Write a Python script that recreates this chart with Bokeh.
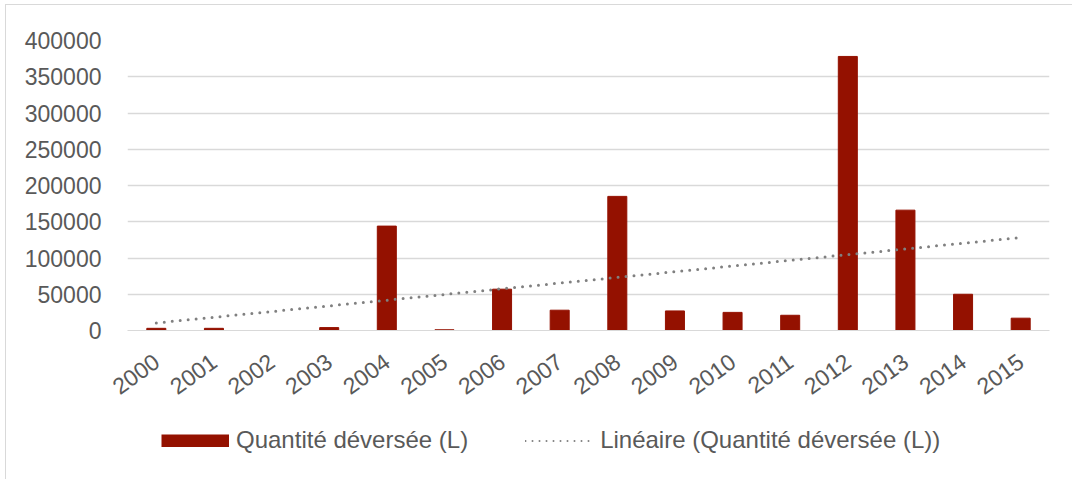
import numpy as np
from bokeh.plotting import figure
from bokeh.layouts import column
from bokeh.models import FactorRange, Range1d, SingleIntervalTicker, BasicTickFormatter, Legend, LegendItem
from bokeh.embed import file_html
from bokeh.resources import INLINE

years = ["2000", "2001", "2002", "2003", "2004", "2005", "2006", "2007",
         "2008", "2009", "2010", "2011", "2012", "2013", "2014", "2015"]
quantite = [3000, 3000, 0, 4000, 144000, 1000, 57000, 28000,
            185000, 27000, 25000, 21000, 378000, 166000, 50000, 17000]

series_name = "Quantité déversée (L)"
trend_name = "Linéaire (Quantité déversée (L))"

# linear trendline (least squares on year index)
idx = np.arange(len(years))
slope, intercept = np.polyfit(idx, np.array(quantite, dtype=float), 1)
trend = list(intercept + slope * idx)

FONT = "Liberation Sans"
TXT = "#595959"
BAR = "#941100"
TREND = "#808080"

W = 1066
p = figure(x_range=FactorRange(*years, range_padding=0),
           y_range=Range1d(0, 400000),
           width=W, height=410,
           output_backend="svg", toolbar_location=None,
           min_border_left=121, min_border_right=23,
           min_border_top=35, min_border_bottom=85)
p.outline_line_color = None

p.vbar(x=years, top=quantite, width=0.33, fill_color=BAR, line_color=BAR)
p.line(x=years, y=trend, line_color=TREND, line_width=3,
       line_dash="0 8", line_cap="round")

p.xgrid.grid_line_color = None
p.ygrid.grid_line_color = "#d9d9d9"
p.ygrid.grid_line_width = 1.5

p.yaxis.ticker = SingleIntervalTicker(interval=50000)
p.yaxis.formatter = BasicTickFormatter(use_scientific=False)
p.yaxis.axis_line_color = None
p.yaxis.major_tick_line_color = None
p.yaxis.minor_tick_line_color = None
p.yaxis.major_tick_out = 0
p.yaxis.major_label_standoff = 22

p.xaxis.axis_line_color = "#d9d9d9"
p.xaxis.major_tick_line_color = None
p.xaxis.minor_tick_line_color = None
p.xaxis.major_tick_out = 0
p.xaxis.major_label_orientation = 0.63
p.xaxis.major_label_standoff = 28

for ax in (p.xaxis, p.yaxis):
    ax.major_label_text_font = FONT
    ax.major_label_text_font_size = "23px"
    ax.major_label_text_color = TXT

# legend strip below the chart (its renderers hold the same style, drawn off-range)
lg = figure(x_range=Range1d(0, 1), y_range=Range1d(0, 1),
            width=W, height=64, output_backend="svg", toolbar_location=None,
            min_border=0)
lg.axis.visible = False
lg.grid.visible = False
lg.outline_line_color = None
rb = lg.line(x=[5, 6], y=[5, 5], line_color=BAR, line_width=13, line_cap="butt")
rl = lg.line(x=[5, 6], y=[5, 5], line_color=TREND, line_width=2,
             line_dash="0 7", line_cap="round")

legend = Legend(items=[LegendItem(label=series_name, renderers=[rb]),
                       LegendItem(label=trend_name, renderers=[rl])],
                orientation="horizontal",
                location=(34, 25),
                glyph_width=68, glyph_height=13,
                label_standoff=7, spacing=57,
                padding=0, margin=0,
                border_line_color=None, background_fill_alpha=0,
                label_text_font=FONT, label_text_font_size="24px",
                label_text_color=TXT)
lg.add_layout(legend, "center")

root = column(p, lg, spacing=0,
              styles={"border-left": "1px solid #d9d9d9",
                      "border-top": "1px solid #d9d9d9",
                      "margin-left": "5px", "margin-top": "4px"})

open("out.html", "w").write(file_html(root, INLINE))
